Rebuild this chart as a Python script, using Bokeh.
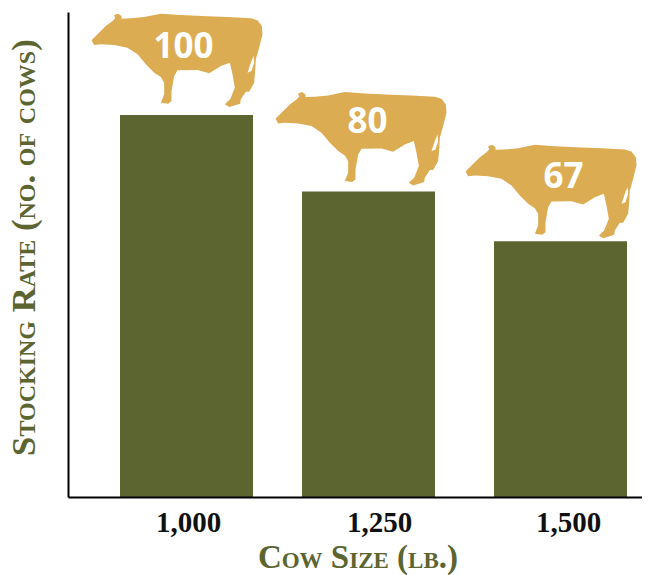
from bokeh.plotting import figure
from bokeh.models import Range1d, FixedTicker
from bokeh.core.properties import value
from bokeh.embed import file_html
from bokeh.resources import INLINE

cow_sizes = ["1,000", "1,250", "1,500"]
stocking_rate = [100, 80, 67]
value_labels = ["100", "80", "67"]
x_title = "Cow Size (lb.)"
y_title = "Stocking Rate (no. of cows)"

# layout: the x range is expressed in page pixels
centers = [186, 368, 560]
tick_positions = [188, 379, 568]
bar_width = 133
cow_dx = [-95, -93, -95]
cow_lift = [2.1, 1.6, 0.8]
label_pos = [(-3, 19), (-1, 22), (3, 20)]

OLIVE = "#5c6530"
GOLD = "#dcac52"

# silhouette at 3x
raw = [(32,108),(50,90),(75,65),(95,50),(103,42),(100,32),(112,28),(122,35),(122,43),(150,42),(190,38),
       (240,28),(300,32),(380,36),(440,38),(510,42),(530,48),(543,65),(545,90),(535,130),(525,165),(523,200),
       (520,235),(505,262),(495,262),(480,285),(478,298),(445,308),(432,300),(448,285),(462,250),(455,210),
       (447,175),(420,185),(385,207),(350,197),(290,198),(280,215),(272,260),(272,290),(262,298),(240,295),
       (250,270),(250,235),(240,218),(220,205),(195,180),(170,150),(140,130),(100,122),(60,120),(40,122)]
hole = [(518,155),(510,175),(500,205),(512,200),(520,175)]
xo = 32 / 3
yo = 308 / 3
ox = [a / 3 - xo for a, b in raw]
oy = [yo - b / 3 for a, b in raw]
hx = [a / 3 - xo for a, b in hole]
hy = [yo - b / 3 for a, b in hole]
scale_y = 382.5 / 100  # px per unit on the value axis

p = figure(width=642, height=567, output_backend="svg", toolbar_location=None,
           x_range=Range1d(68, 642), y_range=Range1d(0, 485 / scale_y),
           min_border_left=68, min_border_right=0, min_border_top=12, min_border_bottom=0)
p.frame_width = 574
p.frame_height = 485
p.outline_line_color = None
p.grid.visible = False
p.background_fill_color = None
p.stylesheets = [":host { font-variant: small-caps; }"]

p.vbar(x=centers, top=stocking_rate, bottom=-0.2, width=bar_width, fill_color=OLIVE, line_color=None)

for c, v, dx, lift, (lx, ly), lab in zip(centers, stocking_rate, cow_dx, cow_lift, label_pos, value_labels):
    base = v + lift
    p.patch([c + dx + a for a in ox], [base + b / scale_y for b in oy], fill_color=GOLD, line_color=None)
    p.patch([c + dx + a for a in hx], [base + b / scale_y for b in hy], fill_color="white", line_color=None)
    p.text(x=[c + lx], y=[base + (ly + 43) / scale_y], text=[lab], text_color="white",
           text_font=value("Open Sans"), text_font_style="bold", text_font_size="35px",
           text_align="center", text_baseline="middle")

p.xaxis.ticker = FixedTicker(ticks=tick_positions)
p.xaxis.major_label_overrides = dict(zip(tick_positions, cow_sizes))
p.xaxis.major_tick_line_color = None
p.xaxis.minor_tick_line_color = None
p.xaxis.axis_line_color = "black"
p.xaxis.axis_line_width = 2
p.xaxis.major_label_text_font = "Liberation Serif"
p.xaxis.major_label_text_font_style = "bold"
p.xaxis.major_label_text_font_size = "29px"
p.xaxis.major_label_text_color = "#111111"
p.xaxis.major_label_standoff = 9
p.xaxis.axis_label = x_title
p.xaxis.axis_label_text_font = "Liberation Serif"
p.xaxis.axis_label_text_font_style = "bold"
p.xaxis.axis_label_text_font_size = "33px"
p.xaxis.axis_label_text_line_height = 1.0
p.xaxis.axis_label_text_color = OLIVE
p.xaxis.axis_label_standoff = 4

p.yaxis.ticker = FixedTicker(ticks=[])
p.yaxis.major_tick_line_color = None
p.yaxis.minor_tick_line_color = None
p.yaxis.axis_line_color = "black"
p.yaxis.axis_line_width = 2
p.yaxis.axis_label = y_title
p.yaxis.axis_label_text_font = "Liberation Serif"
p.yaxis.axis_label_text_font_style = "bold"
p.yaxis.axis_label_text_font_size = "34.7px"
p.yaxis.axis_label_text_line_height = 1.0
p.yaxis.axis_label_text_color = OLIVE
p.yaxis.axis_label_standoff = 26

open("out.html", "w").write(file_html(p, INLINE))
